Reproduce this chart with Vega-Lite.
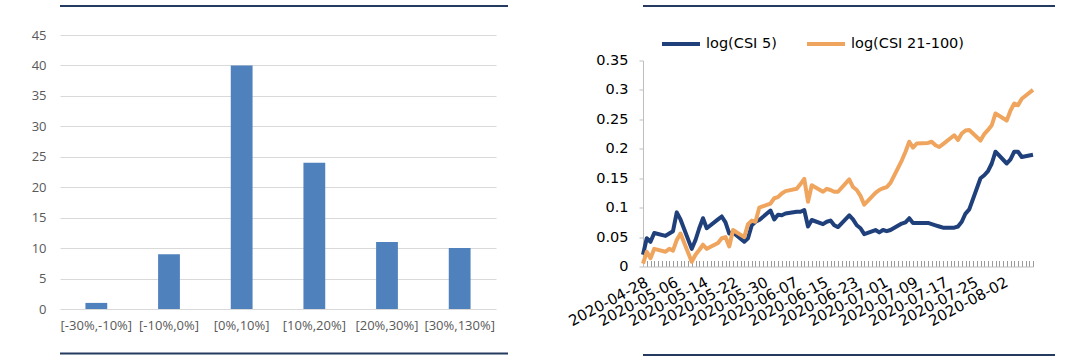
{
  "$schema": "https://vega.github.io/schema/vega-lite/v6.json",
  "background": "white",
  "padding": {"left": 31, "top": 5, "right": 0, "bottom": 0},
  "spacing": 58,
  "config": {"view": {"stroke": null}},
  "resolve": {"scale": {"color": "independent"}, "legend": {"color": "independent"}},
  "hconcat": [
    {
      "spacing": 20.5,
      "align": "none",
      "vconcat": [
        {
          "spacing": 22,
          "align": "none",
          "vconcat": [
            {"width": 448, "height": 2, "view": {"fill": "#243A5E", "stroke": null}, "data": {"values": []}, "mark": {"type": "rule", "opacity": 0}, "encoding": {}},
            {
              "width": 436,
              "height": 274,
              "data": {"values": [
                {"range": "[-30%,-10%]", "count": 1},
                {"range": "[-10%,0%]", "count": 9},
                {"range": "[0%,10%]", "count": 40},
                {"range": "[10%,20%]", "count": 24},
                {"range": "[20%,30%]", "count": 11},
                {"range": "[30%,130%]", "count": 10}
              ]},
              "mark": {"type": "bar", "color": "#4F81BD"},
              "encoding": {
                "x": {"field": "range", "type": "nominal", "sort": null,
                  "scale": {"paddingInner": 0.7, "paddingOuter": 0.35},
                  "axis": {"title": null, "labelAngle": 0, "ticks": false, "domain": false, "labelPadding": 10, "labelFont": "Open Sans", "labelFontSize": 13, "labelColor": "#595959"}},
                "y": {"field": "count", "type": "quantitative", "scale": {"domain": [0, 45]},
                  "axis": {"title": null, "values": [0, 5, 10, 15, 20, 25, 30, 35, 40, 45], "domain": false, "ticks": false, "grid": true, "gridColor": "#D9D9D9", "gridWidth": 1.2, "labelPadding": 14, "labelFont": "Open Sans", "labelFontSize": 13, "labelColor": "#595959"}}
              }
            }
          ]
        },
        {"width": 448, "height": 2, "view": {"fill": "#243A5E", "stroke": null}, "data": {"values": []}, "mark": {"type": "rule", "opacity": 0}, "encoding": {}}
      ]
    },
    {
      "spacing": 25,
      "align": "none",
      "resolve": {"scale": {"color": "independent"}, "legend": {"color": "independent"}},
      "vconcat": [
        {
          "spacing": 15.5,
          "align": "none",
          "resolve": {"scale": {"color": "independent"}, "legend": {"color": "independent"}},
          "vconcat": [
            {"width": 412, "height": 2, "view": {"fill": "#243A5E", "stroke": null}, "data": {"values": []}, "mark": {"type": "rule", "opacity": 0}, "encoding": {}},
            {
              "width": 390,
              "height": 206,
              "data": {"values": [
                {"date": "2020-04-28", "c5": 0.02, "c21": 0.005},
                {"date": "2020-04-29", "c5": 0.048, "c21": 0.025},
                {"date": "2020-04-30", "c5": 0.042, "c21": 0.014},
                {"date": "2020-05-01", "c5": 0.057, "c21": 0.03},
                {"date": "2020-05-04", "c5": 0.052, "c21": 0.025},
                {"date": "2020-05-05", "c5": 0.056, "c21": 0.03},
                {"date": "2020-05-06", "c5": 0.06, "c21": 0.027},
                {"date": "2020-05-07", "c5": 0.092, "c21": 0.045},
                {"date": "2020-05-08", "c5": 0.08, "c21": 0.056},
                {"date": "2020-05-11", "c5": 0.03, "c21": 0.008},
                {"date": "2020-05-12", "c5": 0.045, "c21": 0.02},
                {"date": "2020-05-13", "c5": 0.065, "c21": 0.028},
                {"date": "2020-05-14", "c5": 0.082, "c21": 0.037},
                {"date": "2020-05-15", "c5": 0.065, "c21": 0.03},
                {"date": "2020-05-18", "c5": 0.08, "c21": 0.04},
                {"date": "2020-05-19", "c5": 0.085, "c21": 0.048},
                {"date": "2020-05-20", "c5": 0.075, "c21": 0.05},
                {"date": "2020-05-21", "c5": 0.056, "c21": 0.034},
                {"date": "2020-05-22", "c5": 0.058, "c21": 0.062},
                {"date": "2020-05-25", "c5": 0.042, "c21": 0.05},
                {"date": "2020-05-26", "c5": 0.048, "c21": 0.072},
                {"date": "2020-05-27", "c5": 0.07, "c21": 0.078},
                {"date": "2020-05-28", "c5": 0.076, "c21": 0.076},
                {"date": "2020-05-29", "c5": 0.079, "c21": 0.1},
                {"date": "2020-06-01", "c5": 0.095, "c21": 0.107},
                {"date": "2020-06-02", "c5": 0.08, "c21": 0.116},
                {"date": "2020-06-03", "c5": 0.088, "c21": 0.118},
                {"date": "2020-06-04", "c5": 0.087, "c21": 0.124},
                {"date": "2020-06-05", "c5": 0.09, "c21": 0.128},
                {"date": "2020-06-08", "c5": 0.093, "c21": 0.132},
                {"date": "2020-06-09", "c5": 0.093, "c21": 0.14},
                {"date": "2020-06-10", "c5": 0.096, "c21": 0.149},
                {"date": "2020-06-11", "c5": 0.068, "c21": 0.11},
                {"date": "2020-06-12", "c5": 0.079, "c21": 0.138},
                {"date": "2020-06-15", "c5": 0.072, "c21": 0.127},
                {"date": "2020-06-16", "c5": 0.076, "c21": 0.132},
                {"date": "2020-06-17", "c5": 0.078, "c21": 0.13},
                {"date": "2020-06-18", "c5": 0.07, "c21": 0.127},
                {"date": "2020-06-19", "c5": 0.067, "c21": 0.127},
                {"date": "2020-06-22", "c5": 0.087, "c21": 0.148},
                {"date": "2020-06-23", "c5": 0.08, "c21": 0.135},
                {"date": "2020-06-24", "c5": 0.07, "c21": 0.13},
                {"date": "2020-06-25", "c5": 0.065, "c21": 0.12},
                {"date": "2020-06-26", "c5": 0.055, "c21": 0.105},
                {"date": "2020-06-29", "c5": 0.062, "c21": 0.125},
                {"date": "2020-06-30", "c5": 0.058, "c21": 0.13},
                {"date": "2020-07-01", "c5": 0.062, "c21": 0.133},
                {"date": "2020-07-02", "c5": 0.06, "c21": 0.135},
                {"date": "2020-07-03", "c5": 0.062, "c21": 0.142},
                {"date": "2020-07-06", "c5": 0.073, "c21": 0.18},
                {"date": "2020-07-07", "c5": 0.075, "c21": 0.195},
                {"date": "2020-07-08", "c5": 0.082, "c21": 0.212},
                {"date": "2020-07-09", "c5": 0.074, "c21": 0.202},
                {"date": "2020-07-10", "c5": 0.074, "c21": 0.209},
                {"date": "2020-07-13", "c5": 0.074, "c21": 0.21},
                {"date": "2020-07-14", "c5": 0.072, "c21": 0.212},
                {"date": "2020-07-15", "c5": 0.07, "c21": 0.206},
                {"date": "2020-07-16", "c5": 0.068, "c21": 0.203},
                {"date": "2020-07-17", "c5": 0.066, "c21": 0.208},
                {"date": "2020-07-20", "c5": 0.066, "c21": 0.223},
                {"date": "2020-07-21", "c5": 0.068, "c21": 0.215},
                {"date": "2020-07-22", "c5": 0.076, "c21": 0.226},
                {"date": "2020-07-23", "c5": 0.09, "c21": 0.231},
                {"date": "2020-07-24", "c5": 0.097, "c21": 0.232},
                {"date": "2020-07-27", "c5": 0.15, "c21": 0.214},
                {"date": "2020-07-28", "c5": 0.155, "c21": 0.225},
                {"date": "2020-07-29", "c5": 0.162, "c21": 0.232},
                {"date": "2020-07-30", "c5": 0.175, "c21": 0.24},
                {"date": "2020-07-31", "c5": 0.195, "c21": 0.26},
                {"date": "2020-08-03", "c5": 0.175, "c21": 0.248},
                {"date": "2020-08-04", "c5": 0.182, "c21": 0.265},
                {"date": "2020-08-05", "c5": 0.195, "c21": 0.277},
                {"date": "2020-08-06", "c5": 0.195, "c21": 0.274},
                {"date": "2020-08-07", "c5": 0.186, "c21": 0.285},
                {"date": "2020-08-10", "c5": 0.19, "c21": 0.3}
              ]},
              "transform": [{"fold": ["c5", "c21"], "as": ["series", "value"]}],
              "mark": {"type": "line", "strokeWidth": 4, "strokeJoin": "round"},
              "encoding": {
                "x": {"field": "date", "type": "temporal",
                  "scale": {"type": "utc", "domain": [{"year": 2020, "month": 4, "date": 28, "utc": true}, {"year": 2020, "month": 8, "date": 10, "utc": true}]},
                  "axis": {"title": null, "grid": false, "tickCount": {"interval": "day", "step": 1},
                    "labelExpr": "(round((datum.value - utc(2020, 3, 28)) / 86400000) % 8 == 0 && round((datum.value - utc(2020, 3, 28)) / 86400000) <= 96) ? utcFormat(datum.value, '%Y-%m-%d') : ''",
                    "labelAngle": -28, "labelOverlap": false, "labelFlush": false,
                    "labelFont": "DejaVu Sans", "labelFontSize": 15, "labelColor": "#000000",
                    "domainColor": "#BFBFBF", "tickColor": "#9A9A9A", "tickSize": -6, "labelPadding": 14}},
                "y": {"field": "value", "type": "quantitative", "scale": {"domain": [0, 0.35]},
                  "axis": {"title": null, "grid": false, "values": [0, 0.05, 0.1, 0.15, 0.2, 0.25, 0.3, 0.35], "format": ".2~f",
                    "domainColor": "#BFBFBF", "tickColor": "#BFBFBF", "tickSize": 4, "labelPadding": 11,
                    "labelFont": "DejaVu Sans", "labelFontSize": 14.5, "labelColor": "#000000"}},
                "color": {"field": "series", "type": "nominal",
                  "scale": {"domain": ["c5", "c21"], "range": ["#1F407A", "#F0A55F"]},
                  "legend": {"orient": "none", "legendX": 17, "legendY": -37.5, "direction": "horizontal", "title": null,
                    "symbolType": "stroke", "symbolSize": 1444, "symbolStrokeWidth": 4,
                    "labelFont": "DejaVu Sans", "labelFontSize": 14.5, "labelColor": "#000000", "columnPadding": 22, "labelOffset": 4,
                    "labelExpr": "datum.value == 'c5' ? 'log(CSI 5)' : 'log(CSI 21-100)'"}}
              }
            }
          ]
        },
        {"width": 412, "height": 2, "view": {"fill": "#243A5E", "stroke": null}, "data": {"values": []}, "mark": {"type": "rule", "opacity": 0}, "encoding": {}}
      ]
    }
  ]
}
